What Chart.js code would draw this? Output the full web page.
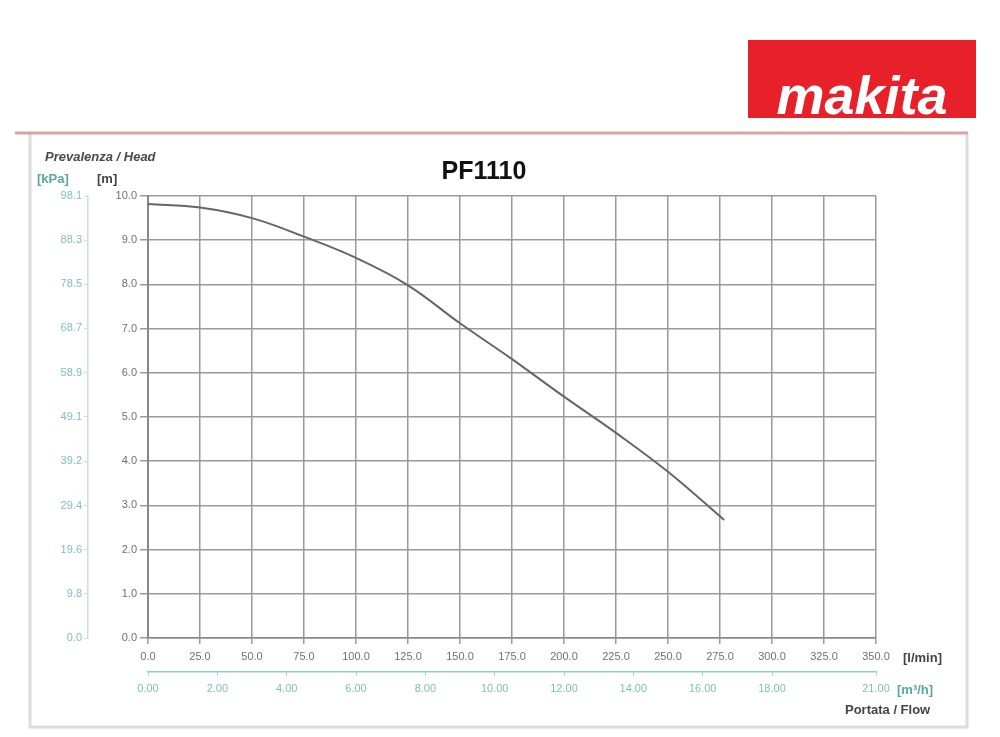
<!DOCTYPE html>
<html>
<head>
<meta charset="utf-8">
<script src="https://cdn.jsdelivr.net/npm/chart.js@4.4.0/dist/chart.umd.min.js"></script>
<style>
  body { margin: 0; background: #fff; }
  #wrap { width: 1000px; height: 737px; position: relative; }
</style>
</head>
<body>
<div id="wrap"><canvas id="pumpChart"></canvas></div>
<script>
// PF1110 pump curve: head [m] vs flow [l/min]
var flowLmin = [0, 25, 50, 75, 100, 125, 150, 175, 200, 225, 250, 277];
var headM = [9.82, 9.74, 9.50, 9.08, 8.60, 7.98, 7.12, 6.31, 5.46, 4.64, 3.76, 2.67];

// secondary scales (tick labels as printed)
var kpaTicks = [0.0, 9.8, 19.6, 29.4, 39.2, 49.1, 58.9, 68.7, 78.5, 88.3, 98.1];
var m3hTicks = [0, 2, 4, 6, 8, 10, 12, 14, 16, 18, 21];

var tealText = "#7cc3b4";
var greyText = "#707070";
var gridGrey = "#9a9a9a";
var font11 = { family: "'Liberation Sans', Arial, sans-serif", size: 11 };

var decorPlugin = {
  id: "decor",
  beforeDraw: function(chart) {
    var c = chart.ctx;
    c.save();
    c.fillStyle = "#fff";
    c.fillRect(0, 0, chart.width, chart.height);
    // frame
    c.strokeStyle = "#dcdcdc";
    c.lineWidth = 3;
    c.beginPath();
    c.moveTo(30, 134); c.lineTo(30, 727); c.lineTo(967, 727); c.lineTo(967, 134);
    c.stroke();
    // rule under logo
    c.strokeStyle = "#d7a3a3";
    c.lineWidth = 3;
    c.beginPath(); c.moveTo(15, 133); c.lineTo(968, 133); c.stroke();
    // logo
    c.fillStyle = "#e8202a";
    c.fillRect(748, 40, 228, 78);
    c.fillStyle = "#fff";
    c.font = "italic bold 54px 'Liberation Sans', Arial, sans-serif";
    c.textAlign = "center";
    c.textBaseline = "alphabetic";
    c.fillText("makita", 862, 114);
    c.restore();
  },
  afterDraw: function(chart) {
    var c = chart.ctx;
    c.save();
    c.textBaseline = "middle";
    c.textAlign = "center";
    c.fillStyle = "#111";
    c.font = "bold 25px 'Liberation Sans', Arial, sans-serif";
    c.fillText("PF1110", 484, 172);

    c.textAlign = "left";
    c.fillStyle = "#4a4a4a";
    c.font = "italic bold 13px 'Liberation Sans', Arial, sans-serif";
    c.fillText("Prevalenza / Head", 45, 157);
    c.font = "bold 13px 'Liberation Sans', Arial, sans-serif";
    c.fillStyle = "#5aa898";
    c.fillText("[kPa]", 37, 179);
    c.fillStyle = "#444";
    c.fillText("[m]", 97, 179);

    c.fillStyle = "#444";
    c.fillText("[l/min]", 903, 658);
    c.fillStyle = "#5aa898";
    c.fillText("[m³/h]", 897, 690);
    c.fillStyle = "#444";
    c.fillText("Portata / Flow", 845, 710);
    c.restore();
  }
};

new Chart("pumpChart", {
  type: "line",
  data: {
    datasets: [{
      data: flowLmin.map(function(f, i) { return { x: f, y: headM[i] }; }),
      borderColor: "#666",
      borderWidth: 2,
      pointRadius: 0,
      tension: 0.4,
      fill: false
    }]
  },
  options: {
    responsive: true,
    maintainAspectRatio: false,
    animation: false,
    layout: { padding: { left: 30, top: 196, right: 124, bottom: 20 } },
    plugins: { legend: { display: false }, tooltip: { enabled: false } },
    scales: {
      x: {
        type: "linear", position: "bottom", weight: 0,
        min: 0, max: 350,
        afterFit: function(s) { s.height = 34; },
        ticks: { stepSize: 25, autoSkip: false, maxRotation: 0, padding: 6,
                 color: greyText, font: font11,
                 callback: function(v) { return v.toFixed(1); } },
        grid: { color: gridGrey, lineWidth: 1.5, tickLength: 6 },
        border: { color: "#888", width: 1.5 }
      },
      x2: {
        type: "linear", position: "bottom", weight: 1,
        min: 0, max: 21,
        afterFit: function(s) { s.height = 45; },
        afterBuildTicks: function(s) { s.ticks = m3hTicks.map(function(v) { return { value: v }; }); },
        ticks: { autoSkip: false, maxRotation: 0, padding: 6,
                 color: tealText, font: font11,
                 callback: function(v) { return v.toFixed(2); } },
        grid: { drawOnChartArea: false, color: "#a9d8ce", lineWidth: 1, tickLength: 4 },
        border: { color: "#8fcfc1", width: 1.5, dash: [3, 4] }
      },
      y: {
        type: "linear", position: "left", weight: 0,
        min: 0, max: 10,
        afterFit: function(s) { s.width = 60; },
        ticks: { stepSize: 1, padding: 3, color: greyText, font: font11,
                 callback: function(v) { return v.toFixed(1); } },
        grid: { color: gridGrey, lineWidth: 1.5, tickLength: 8 },
        border: { color: "#888", width: 2 }
      },
      yk: {
        type: "linear", position: "left", weight: 1,
        min: 0, max: 98.1,
        afterFit: function(s) { s.width = 58; },
        afterBuildTicks: function(s) { s.ticks = kpaTicks.map(function(v) { return { value: v }; }); },
        ticks: { padding: 2, color: tealText, font: font11,
                 callback: function(v) { return v.toFixed(1); } },
        grid: { drawOnChartArea: false, color: "#c9dcd8", lineWidth: 1, tickLength: 4 },
        border: { color: "#cfdedb", width: 1.5 }
      }
    }
  },
  plugins: [decorPlugin]
});
</script>
</body>
</html>
